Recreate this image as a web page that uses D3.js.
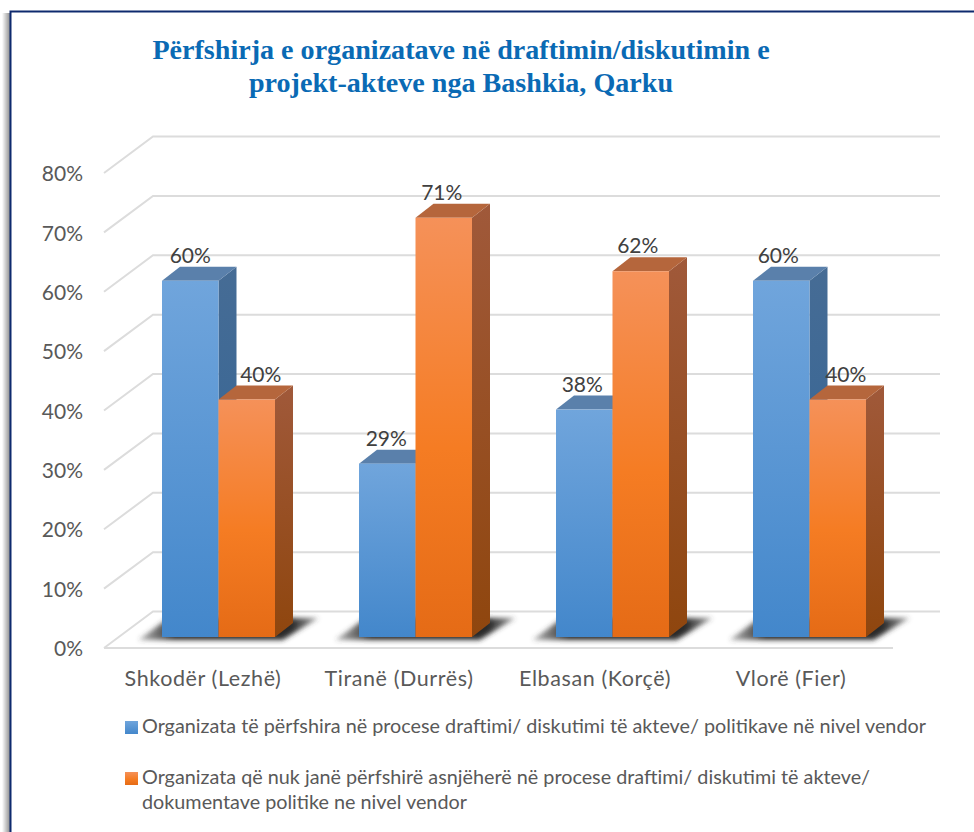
<!DOCTYPE html>
<html>
<head>
<meta charset="utf-8">
<script src="https://cdn.jsdelivr.net/npm/d3@7"></script>
<style>
  html, body { margin: 0; padding: 0; background: #fff; }
  svg { display: block; }
</style>
</head>
<body>
<div id="chart"></div>
<script>
const categories = ["Shkodër (Lezhë)", "Tiranë (Durrës)", "Elbasan (Korçë)", "Vlorë (Fier)"]
const included = [0.60, 0.292, 0.383, 0.60]
const neverIncluded = [0.40, 0.706, 0.616, 0.40]
const yTicks = [0, 0.1, 0.2, 0.3, 0.4, 0.5, 0.6, 0.7, 0.8]
const titleLines = [
  "Përfshirja e organizatave në draftimin/diskutimin e",
  "projekt-akteve nga Bashkia, Qarku"
]
const legendOne = ["Organizata të përfshira në procese draftimi/ diskutimi të akteve/ politikave në nivel vendor"]
const legendTwo = [
  "Organizata që nuk janë përfshirë asnjëherë në procese draftimi/ diskutimi të akteve/",
  "dokumentave politike ne nivel vendor"
]
// hand placed label shifts, the original labels do not sit on the bar centres
const blueNudge = [0, -1, -2, -3]
const orangeNudge = [14, -2, -3, 8]

const width = 974
const height = 832
const depthX = 18
const depthY = -14
const font = "Lato, 'Open Sans', sans-serif"

const svg = d3.select("#chart").append("svg")
  .attr("width", width)
  .attr("height", height)
  .attr("viewBox", [0, 0, width, height])

const defs = svg.append("defs")
const gradient = (id, stops, horizontal) => {
  const g = defs.append("linearGradient").attr("id", id)
    .attr("x1", 0).attr("y1", 0)
    .attr("x2", horizontal ? 1 : 0).attr("y2", horizontal ? 0 : 1)
  stops.forEach(s => g.append("stop")
    .attr("offset", s[0])
    .attr("stop-color", s[1])
    .attr("stop-opacity", s[2] === undefined ? 1 : s[2]))
}
gradient("blueFront", [[0, "#70a5dc"], [1, "#4387cb"]])
gradient("orangeFront", [[0, "#f59159"], [0.55, "#f57c23"], [1, "#e56b16"]])
gradient("blueSide", [[0, "#466c95"], [1, "#2f6396"]])
gradient("orangeSide", [[0, "#a0593a"], [1, "#8f460e"]])
gradient("frameShadow", [[0, "#ffffff"], [1, "#8f8f8f"]], true)
gradient("floorShadow", [[0, "#444", 0.4], [0.2, "#2a2a2a", 1], [0.85, "#2a2a2a", 1], [1, "#444", 0.5]], true)
defs.append("filter").attr("id", "blur")
  .attr("x", "-20%").attr("y", "-50%").attr("width", "140%").attr("height", "200%")
  .append("feGaussianBlur").attr("stdDeviation", 2.5)

// page frame
svg.append("rect").attr("x", 2).attr("y", 13).attr("width", 8).attr("height", height - 13)
  .attr("fill", "url(#frameShadow)")
svg.append("path")
  .attr("d", `M10.5,${height}V11.5H${width}`)
  .attr("fill", "none")
  .attr("stroke", "#0e2a6e")
  .attr("stroke-width", 2)

// title
svg.append("g").selectAll("text")
  .data(titleLines)
  .join("text")
  .attr("x", 461)
  .attr("y", (d, i) => 59 + i * 33)
  .attr("text-anchor", "middle")
  .attr("font-family", "'Liberation Serif', serif")
  .attr("font-weight", "bold")
  .attr("font-size", 28.1)
  .attr("fill", "#0a6ab4")
  .text(d => d)

// scales on the front plane of the chart box
const yAxisScale = d3.scaleLinear().domain([0, 0.8]).range([648, 173])
const xAxisScale = d3.scaleBand().domain(categories).range([105, 889])
// bars stand a little behind the front plane
const yBar = d3.scaleLinear().domain([0, 0.8]).range([637, 162])
const xBar = d3.scaleBand().domain(categories).range([120, 908])
const barWidth = 56.5

// back wall gridlines and side wall lines
const grid = svg.append("g").attr("fill", "none").attr("stroke", "#dcdcdc").attr("stroke-width", 2)
grid.selectAll("path")
  .data(yTicks)
  .join("path")
  .attr("d", d => `M104,${yAxisScale(d)}L153,${yAxisScale(d) - 36.5}H940`)
grid.append("path")
  .attr("d", `M104,${yAxisScale(0)}H893`)

// shadows on the floor
svg.append("g")
  .attr("filter", "url(#blur)")
  .selectAll("path")
  .data(categories)
  .join("path")
  .attr("fill", "url(#floorShadow)")
  .attr("d", d => {
    const c = xBar(d) + xBar.bandwidth() / 2
    const base = yBar(0)
    return `M${c - 80},${base + 3}L${c - 50},${base - 19}H${c + 100}L${c + 64},${base + 3}Z`
  })

// 3d bars
const bar3d = (g, x, v, c) => {
  const y0 = yBar(0)
  const y1 = yBar(v)
  g.append("path")
    .attr("fill", `url(#${c}Side)`)
    .attr("d", `M${x + barWidth},${y1}l${depthX},${depthY}V${y0 + depthY}l${-depthX},${-depthY}Z`)
  g.append("path")
    .attr("fill", c === "blue" ? "#5a80ab" : "#b5663c")
    .attr("d", `M${x},${y1}l${depthX},${depthY}h${barWidth}l${-depthX},${-depthY}Z`)
  g.append("rect")
    .attr("x", x)
    .attr("y", y1)
    .attr("width", barWidth)
    .attr("height", y0 - y1)
    .attr("fill", `url(#${c}Front)`)
}

const groups = svg.append("g").selectAll("g")
  .data(categories)
  .join("g")
groups.each(function (d, i) {
  const c = xBar(d) + xBar.bandwidth() / 2
  // orange drawn after blue so its face sits over the blue side wall
  bar3d(d3.select(this), c - barWidth, included[i], "blue")
  bar3d(d3.select(this), c, neverIncluded[i], "orange")
})

// value labels
const labels = svg.append("g")
  .attr("font-family", font)
  .attr("font-size", 21)
  .attr("fill", "#404040")
  .attr("text-anchor", "middle")
categories.forEach((d, i) => {
  const c = xBar(d) + xBar.bandwidth() / 2
  labels.append("text")
    .attr("x", c - barWidth / 2 + blueNudge[i])
    .attr("y", yBar(included[i]) - 18)
    .text(d3.format(".0%")(included[i]))
  labels.append("text")
    .attr("x", c + barWidth / 2 + orangeNudge[i])
    .attr("y", yBar(neverIncluded[i]) - 18)
    .text(d3.format(".0%")(neverIncluded[i]))
})

// axes
const yAxis = d3.axisLeft(yAxisScale)
  .tickValues(yTicks)
  .tickFormat(d3.format(".0%"))
  .tickSize(0)
  .tickPadding(21)
svg.append("g")
  .attr("transform", "translate(104,1)")
  .call(yAxis)
  .call(g => g.select(".domain").remove())
  .call(g => g.selectAll("text")
    .attr("font-family", font)
    .attr("font-size", 21)
    .attr("fill", "#595959"))

const xAxis = d3.axisBottom(xAxisScale).tickSize(0).tickPadding(23)
svg.append("g")
  .attr("transform", "translate(0,648)")
  .call(xAxis)
  .call(g => g.select(".domain").remove())
  .call(g => g.selectAll("text")
    .attr("font-family", font)
    .attr("font-size", 21.5)
    .attr("letter-spacing", 0.6)
    .attr("fill", "#595959"))

// legend
const legend = svg.append("g")
  .attr("font-family", font)
  .attr("font-size", 19.8)
  .attr("fill", "#595959")
const legendRows = [
  { lines: legendOne, y: 733, fill: "blueFront" },
  { lines: legendTwo, y: 784, fill: "orangeFront" }
]
legendRows.forEach(row => {
  legend.append("rect")
    .attr("x", 125)
    .attr("y", row.y - 12)
    .attr("width", 13)
    .attr("height", 13)
    .attr("fill", `url(#${row.fill})`)
  row.lines.forEach((t, i) => {
    legend.append("text")
      .attr("x", 142)
      .attr("y", row.y + i * 25)
      .text(t)
  })
})
</script>
</body>
</html>
